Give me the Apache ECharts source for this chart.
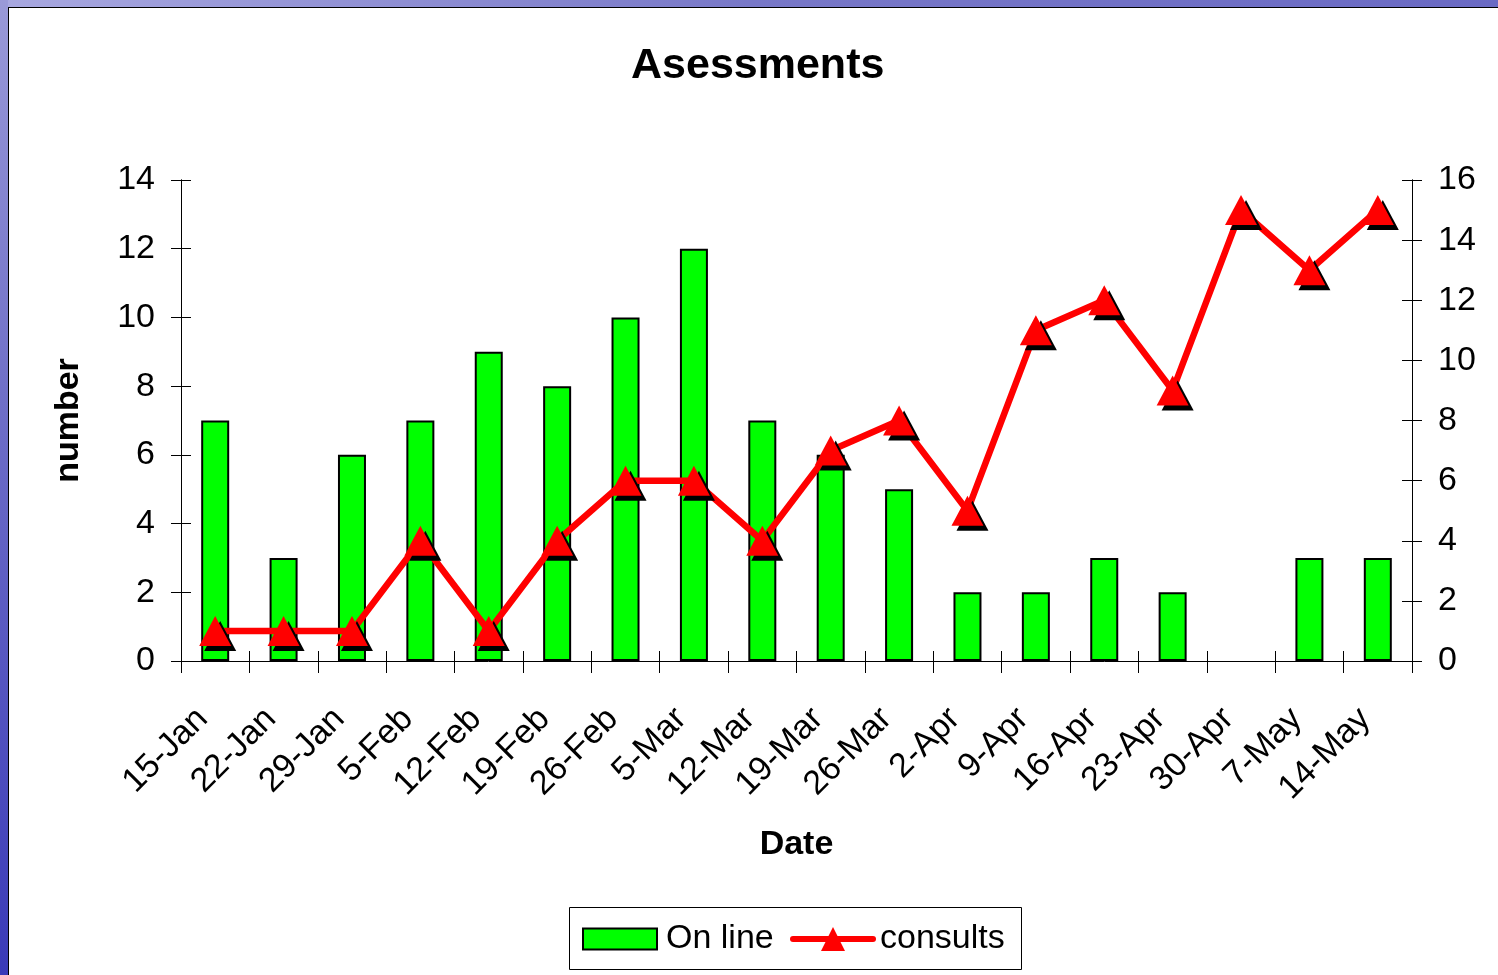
<!DOCTYPE html>
<html>
<head>
<meta charset="utf-8">
<script src="https://cdn.jsdelivr.net/npm/echarts@6/dist/echarts.min.js"></script>
<style>
html,body{margin:0;padding:0;background:#fff;}
#chart{width:1498px;height:975px;}
</style>
</head>
<body>
<div id="chart"></div>
<script>
var categories = ['15-Jan','22-Jan','29-Jan','5-Feb','12-Feb','19-Feb','26-Feb','5-Mar','12-Mar','19-Mar','26-Mar','2-Apr','9-Apr','16-Apr','23-Apr','30-Apr','7-May','14-May'];
var onLine = [7,3,6,7,9,8,10,12,7,6,5,2,2,3,2,0,3,3];
var consults = [1,1,1,4,1,4,6,6,4,7,8,5,11,12,9,15,13,15];
var leftTicks = {min:0, max:14, interval:2};
var rightTicks = {min:0, max:16, interval:2};

var FONT = 'Liberation Sans, Arial, sans-serif';
var chart = echarts.init(document.getElementById('chart'), null, {renderer:'canvas'});

function yAx(pos, t, inside, showLabel){
  return {
    type:'value', position:pos, min:t.min, max:t.max, interval:t.interval,
    splitLine:{show:false},
    axisLine:{show:true, lineStyle:{color:'#000', width:1}},
    axisTick:{show:true, inside:inside, length:10, lineStyle:{color:'#000', width:1}},
    axisLabel:{show:showLabel, color:'#000', fontSize:34, fontFamily:FONT, margin:26}
  };
}

var barData = onLine.map(function(v){
  return v === 0 ? {value:v, itemStyle:{borderWidth:0}} : v;
});

var option = {
  backgroundColor:'#fff',
  animation:false,
  title:{
    text:'Asessments', left:631, top:45, padding:0,
    textStyle:{fontSize:43, fontWeight:'bold', color:'#000', fontFamily:FONT}
  },
  legend:[{
    left:582, top:922, padding:0,
    itemWidth:74, itemHeight:21, icon:'rect',
    textStyle:{fontSize:34, color:'#000', fontFamily:FONT, padding:[0,0,0,4]},
    data:['On line']
  },{
    left:790, top:922, padding:0,
    itemWidth:80, itemHeight:30,
    lineStyle:{width:6, color:'#FF0000', cap:'round'},
    itemStyle:{shadowColor:'rgba(0,0,0,0)', shadowOffsetX:0, shadowOffsetY:0, shadowBlur:0},
    textStyle:{fontSize:34, color:'#000', fontFamily:FONT, padding:[0,0,0,2]},
    data:['consults']
  }],
  grid:{left:181, right:86, top:180, bottom:314, containLabel:false},
  xAxis:[{
    type:'category', data:categories, position:'bottom',
    name:'Date', nameLocation:'middle', nameGap:167,
    nameTextStyle:{fontSize:34, fontWeight:'bold', color:'#000', fontFamily:FONT},
    axisLine:{show:true, lineStyle:{color:'#000', width:1}},
    axisTick:{show:true, length:12, lineStyle:{color:'#000', width:1}},
    axisLabel:{color:'#000', fontSize:34, fontFamily:FONT, rotate:45, margin:40, interval:0, padding:[0,18,0,0]},
    splitLine:{show:false}
  },{
    type:'category', data:categories, position:'bottom',
    axisLine:{show:false},
    axisTick:{show:true, inside:true, length:10, lineStyle:{color:'#000', width:1}},
    axisLabel:{show:false},
    splitLine:{show:false}
  }],
  yAxis:[
    Object.assign(yAx('left', leftTicks, false, true), {
      name:'number', nameLocation:'middle', nameRotate:90, nameGap:95,
      nameTextStyle:{fontSize:34, fontWeight:'bold', color:'#000', fontFamily:FONT}
    }),
    yAx('right', rightTicks, false, true),
    yAx('left', leftTicks, true, false),
    yAx('right', rightTicks, true, false)
  ],
  series:[{
    name:'On line', type:'bar', data:barData, xAxisIndex:0, yAxisIndex:0,
    barWidth:28,
    itemStyle:{color:'#00FF00', borderColor:'#000', borderWidth:2}
  },{
    name:'consults', type:'line', data:consults, xAxisIndex:0, yAxisIndex:1,
    symbol:'triangle', symbolSize:[32,30],
    lineStyle:{color:'#FF0000', width:6.5},
    itemStyle:{color:'#FF0000', shadowColor:'#000', shadowOffsetX:5, shadowOffsetY:5, shadowBlur:0},
    z:5
  }],
  graphic:[
    {type:'rect', shape:{x:569.5,y:907.5,width:452,height:62}, style:{fill:'none', stroke:'#000', lineWidth:1}, z:50},
    {type:'rect', shape:{x:0,y:0,width:1498,height:7}, style:{fill:new echarts.graphic.LinearGradient(0,0,1,0,[{offset:0,color:'#a8a8e0'},{offset:0.5,color:'#7878c8'},{offset:1,color:'#6a6ac4'}])}, z:100},
    {type:'rect', shape:{x:0,y:0,width:8,height:975}, style:{fill:new echarts.graphic.LinearGradient(0,0,0,1,[{offset:0,color:'#9a9ad8'},{offset:0.4,color:'#7070c8'},{offset:1,color:'#3a3ab8'}])}, z:100},
    {type:'rect', shape:{x:8,y:7,width:1490,height:1}, style:{fill:'#000'}, z:100},
    {type:'rect', shape:{x:8,y:7,width:1,height:968}, style:{fill:'#000'}, z:100}
  ]
};
chart.setOption(option);
</script>
</body>
</html>
